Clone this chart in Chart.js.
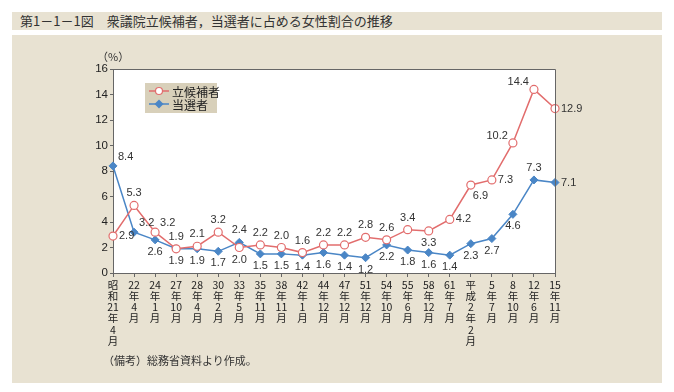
<!DOCTYPE html>
<html>
<head>
<meta charset="utf-8">
<script src="https://cdn.jsdelivr.net/npm/chart.js@4"></script>
<style>
  body { margin: 0; background: #fff; width: 674px; height: 392px; position: relative; font-family: "Noto Sans CJK JP", sans-serif; }
  .title { position: absolute; left: 12px; top: 12px; width: 650px; height: 18px; background: #e8e2d2; color: #333; font-size: 13px; line-height: 18px; }
  .title span { margin-left: 8px; }
  .panel { position: absolute; left: 12px; top: 35px; width: 650px; height: 348px; background: #e8e2d2; }
  .note { position: absolute; left: 103px; top: 352px; font-size: 11px; color: #333; }
</style>
</head>
<body>
<div class="title"><span>第1－1－1図　衆議院立候補者，当選者に占める女性割合の推移</span></div>
<div class="panel"><canvas id="myChart" width="650" height="348"></canvas></div>
<div class="note">（備考）総務省資料より作成。</div>
<script>
const labels = [
  ['昭', '和', '21', '年', '4', '月'],
  ['22', '年', '4', '月'],
  ['24', '年', '1', '月'],
  ['27', '年', '10', '月'],
  ['28', '年', '4', '月'],
  ['30', '年', '2', '月'],
  ['33', '年', '5', '月'],
  ['35', '年', '11', '月'],
  ['38', '年', '11', '月'],
  ['42', '年', '1', '月'],
  ['44', '年', '12', '月'],
  ['47', '年', '12', '月'],
  ['51', '年', '12', '月'],
  ['54', '年', '10', '月'],
  ['55', '年', '6', '月'],
  ['58', '年', '12', '月'],
  ['61', '年', '7', '月'],
  ['平', '成', '2', '年', '2', '月'],
  ['5', '年', '7', '月'],
  ['8', '年', '10', '月'],
  ['12', '年', '6', '月'],
  ['15', '年', '11', '月']
];
const candidates = [2.9, 5.3, 3.2, 1.9, 2.1, 3.2, 2.0, 2.2, 2.0, 1.6, 2.2, 2.2, 2.8, 2.6, 3.4, 3.3, 4.2, 6.9, 7.3, 10.2, 14.4, 12.9];
const elected = [8.4, 3.2, 2.6, 1.9, 1.9, 1.7, 2.4, 1.5, 1.5, 1.4, 1.6, 1.4, 1.2, 2.2, 1.8, 1.6, 1.4, 2.3, 2.7, 4.6, 7.3, 7.1];
const yTicks = [0, 2, 4, 6, 8, 10, 12, 14, 16];

// where each value label sits relative to its point
const candPos = ['r', 'a', 'ar', 'a', 'a', 'a', 'b', 'a', 'a', 'a', 'a', 'a', 'a', 'a', 'a', 'b', 'r', 'br', 'r', 'al', 'al', 'r'];
const electPos = ['ar', 'ar', 'b', 'b', 'b', 'b', 'a', 'b', 'b', 'b', 'b', 'b', 'b', 'b', 'b', 'b', 'b', 'b', 'b', 'b', 'a', 'r'];

const RED = '#e26d6d';
const BLUE = '#4a86c6';
const numFont = '11px "Liberation Sans", Arial, sans-serif';

const valueLabels = {
  id: 'valueLabels',
  afterDatasetsDraw(chart) {
    const ctx = chart.ctx;
    const posSets = [candPos, electPos];
    ctx.save();
    ctx.font = numFont;
    ctx.fillStyle = '#333';
    chart.data.datasets.forEach((ds, i) => {
      chart.getDatasetMeta(i).data.forEach((pt, j) => {
        const p = posSets[i][j];
        const txt = ds.data[j].toFixed(1);
        let x = pt.x, y = pt.y;
        ctx.textAlign = 'center';
        ctx.textBaseline = 'middle';
        if (p === 'a') { y -= 12; }
        else if (p === 'b') { y += 12; }
        else if (p === 'r') { x += 6; ctx.textAlign = 'left'; }
        else if (p === 'ar') { x += 5; y -= 9; ctx.textAlign = 'left'; }
        else if (p === 'br') { x += 2; y += 11; ctx.textAlign = 'left'; }
        else if (p === 'al') { x -= 5; y -= 7; ctx.textAlign = 'right'; }
        ctx.fillText(txt, x, y);
      });
    });
    ctx.restore();
  }
};

const frame = {
  id: 'frame',
  beforeDraw(chart) {
    const a = chart.chartArea, ctx = chart.ctx;
    ctx.save();
    ctx.fillStyle = '#fff';
    ctx.fillRect(a.left, a.top, a.right - a.left, a.bottom - a.top);
    ctx.restore();
  },
  afterDraw(chart) {
    const a = chart.chartArea, ctx = chart.ctx;
    ctx.save();
    ctx.strokeStyle = '#666';
    ctx.lineWidth = 1;
    ctx.beginPath();
    ctx.moveTo(a.left, a.top + 0.5);
    ctx.lineTo(a.right + 0.5, a.top + 0.5);
    ctx.lineTo(a.right + 0.5, a.bottom);
    ctx.stroke();
    // unit
    ctx.fillStyle = '#333';
    ctx.font = '11px "Noto Sans CJK JP", sans-serif';
    ctx.textAlign = 'left';
    ctx.textBaseline = 'middle';
    ctx.fillText('（%）', a.left - 16, a.top - 12);
    // legend
    const lx = a.left + 32, ly = a.top + 14;
    ctx.fillStyle = '#d8d0ba';
    ctx.fillRect(lx, ly, 72, 30);
    const items = [['立候補者', RED, 'circle'], ['当選者', BLUE, 'rectRot']];
    items.forEach((it, k) => {
      const yy = ly + 8 + k * 13;
      ctx.strokeStyle = it[1];
      ctx.lineWidth = 1.5;
      ctx.beginPath();
      ctx.moveTo(lx + 4, yy);
      ctx.lineTo(lx + 24, yy);
      ctx.stroke();
      ctx.lineWidth = 1.2;
      ctx.fillStyle = it[2] === 'circle' ? '#fff' : it[1];
      ctx.beginPath();
      if (it[2] === 'circle') {
        ctx.arc(lx + 14, yy, 3.5, 0, Math.PI * 2);
        ctx.fill();
        ctx.stroke();
      } else {
        ctx.moveTo(lx + 14, yy - 4.5);
        ctx.lineTo(lx + 18.5, yy);
        ctx.lineTo(lx + 14, yy + 4.5);
        ctx.lineTo(lx + 9.5, yy);
        ctx.closePath();
        ctx.fill();
      }
      ctx.fillStyle = '#222';
      ctx.font = '12px "Noto Sans CJK JP", sans-serif';
      ctx.fillText(it[0], lx + 27, yy + 1);
    });
    ctx.restore();
  }
};

const data = {
  labels: labels,
  datasets: [{
    label: '立候補者',
    data: candidates,
    borderColor: RED,
    backgroundColor: '#fff',
    borderWidth: 1.5,
    pointStyle: 'circle',
    pointRadius: 4,
    pointBorderWidth: 1.2,
    pointBackgroundColor: '#fff',
    pointBorderColor: RED,
    tension: 0
  },
  {
    label: '当選者',
    data: elected,
    borderColor: BLUE,
    backgroundColor: BLUE,
    borderWidth: 1.5,
    pointStyle: 'rectRot',
    pointRadius: 4,
    pointBorderWidth: 1,
    pointBackgroundColor: BLUE,
    pointBorderColor: BLUE,
    tension: 0
  }]
};

const config = {
  type: 'line',
  data: data,
  options: {
    responsive: false,
    animation: false,
    layout: { padding: { left: 0, right: 107, top: 34, bottom: 20 } },
    plugins: {
      legend: { display: false },
      tooltip: { enabled: false }
    },
    scales: {
      x: {
        offset: false,
        grid: { drawOnChartArea: false, drawTicks: true, tickLength: 4, color: '#666' },
        border: { color: '#666' },
        ticks: {
          autoSkip: false,
          maxRotation: 0,
          padding: 2,
          color: '#222',
          font: { family: '"Noto Sans CJK JP", sans-serif', size: 10.5, lineHeight: 1.07 }
        },
        afterFit(scale) { scale.height = 90; }
      },
      y: {
        min: 0,
        max: 16,
        afterBuildTicks(scale) { scale.ticks = yTicks.map(v => ({ value: v })); },
        grid: { drawOnChartArea: false, drawTicks: true, tickLength: 3, color: '#666' },
        border: { color: '#666' },
        ticks: {
          padding: 2,
          color: '#222',
          font: { family: '"Liberation Sans", Arial, sans-serif', size: 11.5 }
        },
        afterFit(scale) { scale.width = 101; }
      }
    }
  },
  plugins: [frame, valueLabels]
};

const myChart = new Chart(
  document.getElementById('myChart'),
  config
);
</script>
</body>
</html>
